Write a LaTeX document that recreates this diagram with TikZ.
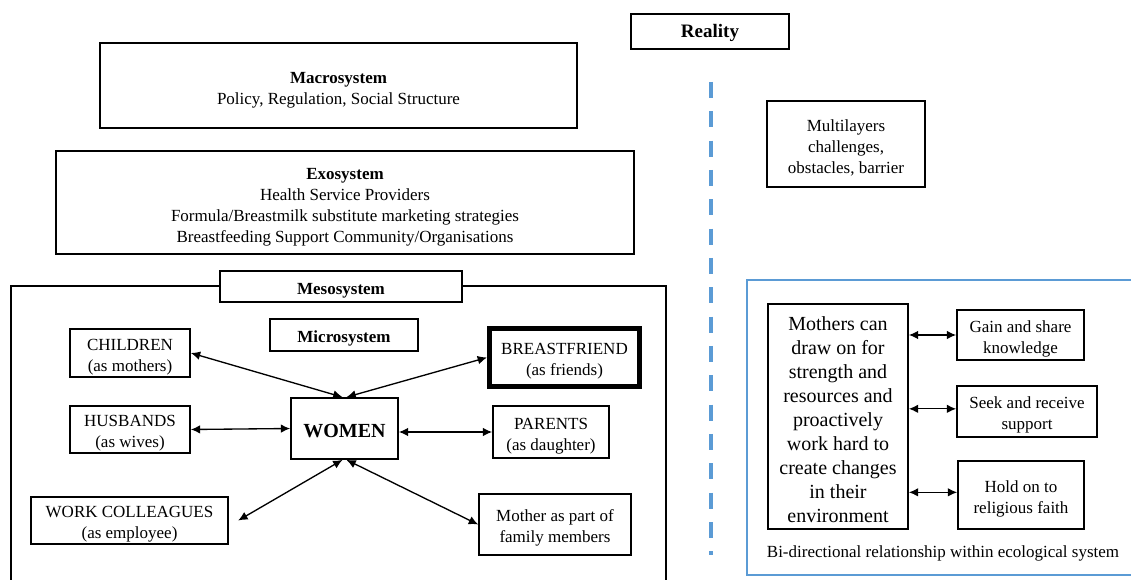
\documentclass[tikz,border=0pt]{standalone}
\usepackage{fontspec}
\setmainfont{Liberation Serif}
\usetikzlibrary{arrows.meta}
\definecolor{lblue}{RGB}{91,155,213}
\newcommand\fsA{\fontsize{12.75pt}{15.6pt}\selectfont}
\newcommand\fsB{\fontsize{15pt}{18pt}\selectfont}
\newcommand\fsC{\fontsize{14.25pt}{17pt}\selectfont}
\newcommand\up{\rule{0pt}{14.5pt}}
\begin{document}
\begin{tikzpicture}[x=0.75pt,y=-0.75pt,
  bx/.style 2 args={draw=black,line width=1.3pt,inner sep=0pt,align=center,
    minimum width=#1*0.75pt,minimum height=#2*0.75pt,font=\fsA},
  dbl/.style={{Latex[length=7pt,width=6.5pt]}-{Latex[length=7pt,width=6.5pt]},line width=1pt}]
\useasboundingbox (0,0) rectangle (1131,580);

% Reality
\node[bx={158}{35},font=\fsC\bfseries] (reality) at (710,31.5) {\rule{0pt}{12.5pt}Reality};

% Macro / Exo
\node[bx={477}{85}] (macro) at (338.5,85.5) {\rule{0pt}{15.5pt}\textbf{Macrosystem}\\Policy, Regulation, Social Structure};
\node[bx={578}{103}] (exo) at (345,202.5) {\rule{0pt}{15.5pt}\textbf{Exosystem}\\Health Service Providers\\Formula/Breastmilk substitute marketing strategies\\Breastfeeding Support Community/Organisations};

% Mesosystem frame
\coordinate (mfbl) at (11,582);
\coordinate (mftr) at (666,286);
\coordinate (mfbr) at (666,582);
\draw[line width=1.3pt] (mfbl) |- (mftr) -- (mfbr);
\node[bx={242}{31},fill=white,font=\fsA\bfseries] (meso) at (341,286.5) {\up Mesosystem};
\node[bx={148}{32},font=\fsA\bfseries] (micro) at (344,335) {\up Microsystem};

% Microsystem nodes
\node[bx={120}{48}] (children) at (130,353) {\up CHILDREN\\(as mothers)};
\node[bx={150}{58},line width=3.75pt] (bf) at (564.5,357.5) {\up BREASTFRIEND\\(as friends)};
\node[bx={120}{47}] (husbands) at (130,429.5) {\up HUSBANDS\\(as wives)};
\node[bx={107}{61},font=\fsB\bfseries] (women) at (344.5,428.5) {\rule{0pt}{13pt}WOMEN};
\node[bx={116}{52}] (parents) at (551,432) {\up PARENTS\\(as daughter)};
\node[bx={197}{47}] (work) at (129.5,520.5) {\up WORK COLLEAGUES\\(as employee)};
\node[bx={152}{61}] (mother) at (555,524.5) {\up Mother as part of\\family members};

\draw[dbl] (children.east) -- ([xshift=-1.5]women.north);
\draw[dbl] (bf.west) -- ([xshift=1.5]women.north);
\draw[dbl] (husbands.east) -- (women.west);
\draw[dbl] (parents.west -| women.east) -- (parents.west);
\draw[dbl] ([xshift=-1.5]women.south) -- ([xshift=7]work.east);
\draw[dbl] ([xshift=1.5]women.south) -- (mother.west);

% Reality side
\coordinate (dtop) at (711,82);
\coordinate (dbot) at (711,555);
\draw[lblue,line width=2.5pt,dash pattern=on 12 off 10] (dtop) -- (dbot);

\node[bx={158}{86}] (multi) at (846,144) {\up Multilayers\\challenges,\\obstacles, barrier};

% Blue frame
\coordinate (bftr) at (1135,280);
\coordinate (bfbl) at (747,575);
\coordinate (bfbr) at (1135,575);
\draw[lblue,line width=1.9pt] (bftr) -| (bfbl) -- (bfbr);

\node[bx={140}{225},font=\fsB] (mothers) at (838,416.5) {\rule{0pt}{14.5pt}Mothers can\\draw on for\\strength and\\resources and\\proactively\\work hard to\\create changes\\in their\\environment};
\node[bx={127}{50}] (gain) at (1020.5,335) {\up Gain and share\\knowledge};
\node[bx={140}{51}] (seek) at (1027,411.5) {\up Seek and receive\\support};
\node[bx={126}{68}] (hold) at (1021,495) {\up Hold on to\\religious faith};

\draw[dbl] (gain.west -| mothers.east) -- (gain.west);
\draw[dbl] ([yshift=2]seek.west -| mothers.east) -- ([yshift=2]seek.west);
\draw[dbl] ([yshift=2]hold.west -| mothers.east) -- ([yshift=2]hold.west);

\node[font=\fsA,inner sep=0pt] (caption) at (943,553) {Bi-directional relationship within ecological system};
\end{tikzpicture}
\end{document}
